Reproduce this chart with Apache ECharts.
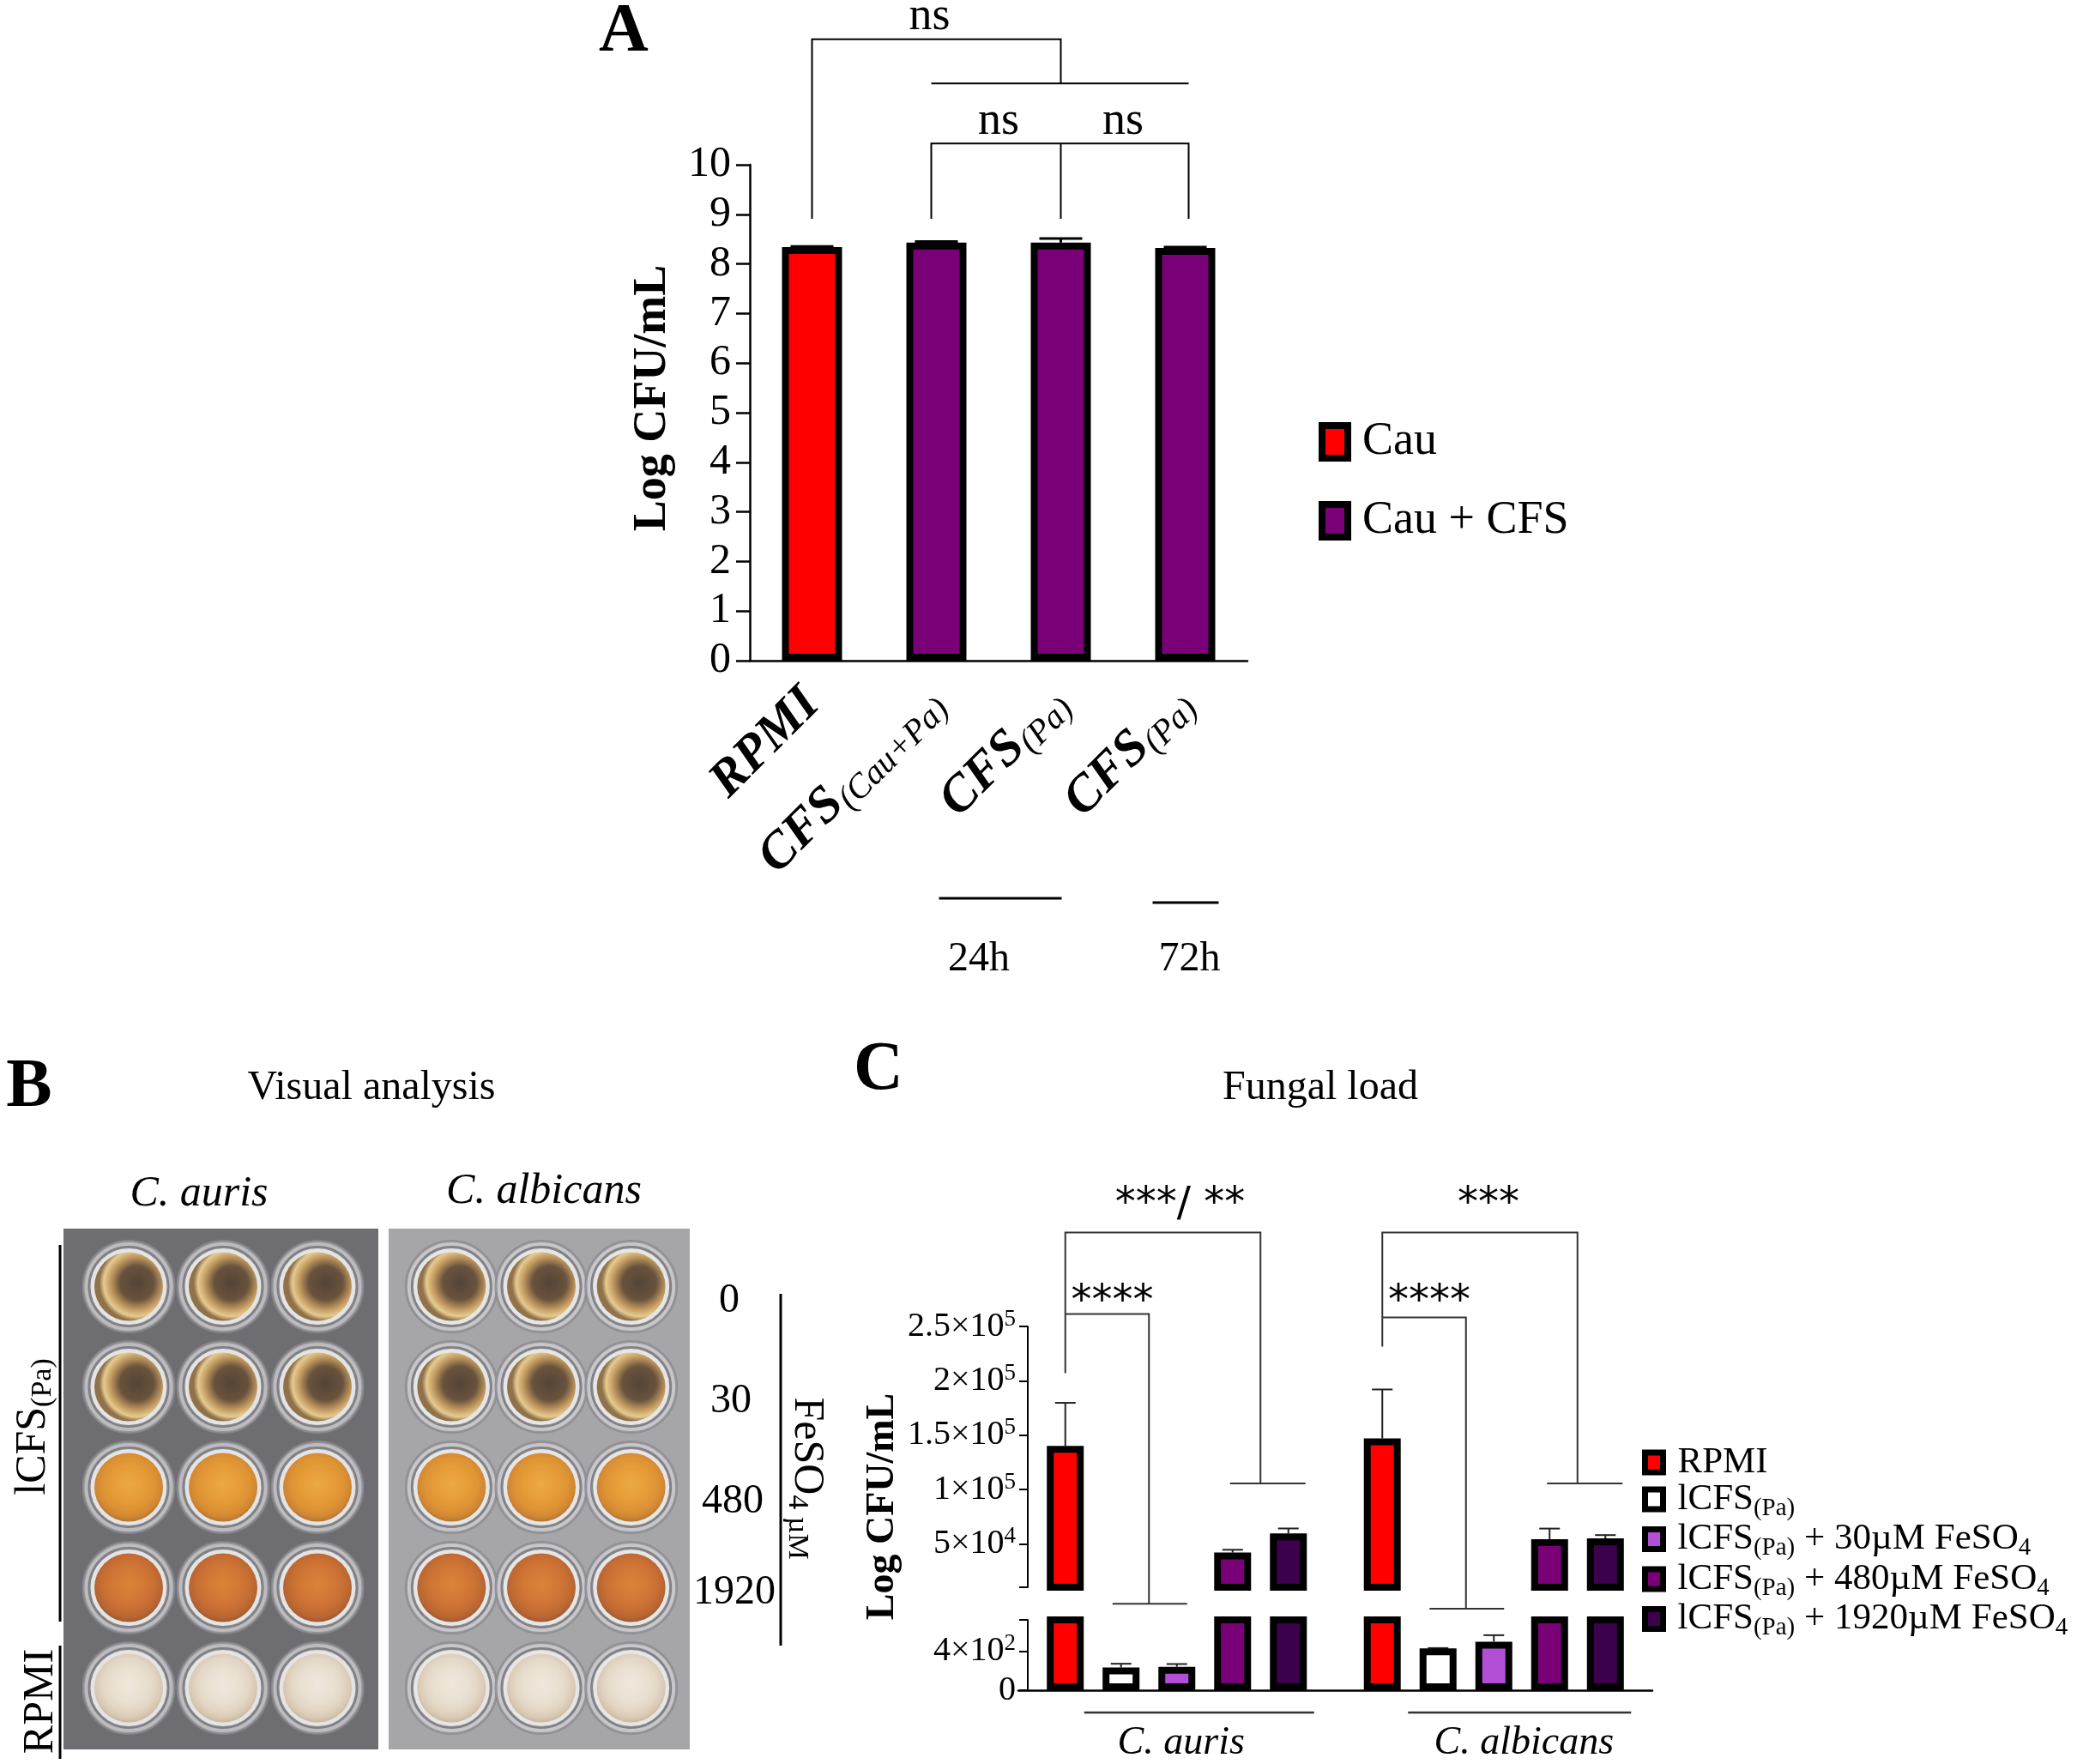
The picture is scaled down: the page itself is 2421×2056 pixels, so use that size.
<!DOCTYPE html>
<html>
<head>
<meta charset="utf-8">
<script src="https://cdn.jsdelivr.net/npm/echarts@6/dist/echarts.min.js"></script>
<style>
html, body { margin: 0; padding: 0; background: #fff; }
#fig { width: 2421px; height: 2056px; }
</style>
</head>
<body>
<div id="fig"></div>
<script>
var FONT = '"Liberation Serif", "Times New Roman", serif';

// ---- panel A data ----
var groupsA = ['RPMI', 'CFS(Cau+Pa) 24h', 'CFS(Pa) 24h', 'CFS(Pa) 72h'];
var labelMainA = ['RPMI', 'CFS', 'CFS', 'CFS'];
var labelSubA = ['', '(Cau+Pa)', '(Pa)', '(Pa)'];
var cauA = [8.34, '-', '-', '-'];
var cauCfsA = ['-', 8.43, 8.43, 8.32];
var meanA = [8.34, 8.43, 8.43, 8.32];
var errA = [0.01, 0.02, 0.08, 0.02];

// ---- panel C data ----
var speciesC = ['C. auris', 'C. albicans'];
var treatC = ['RPMI', 'lCFS(Pa)', 'lCFS(Pa) + 30µM FeSO4', 'lCFS(Pa) + 480µM FeSO4', 'lCFS(Pa) + 1920µM FeSO4'];
var aurisC = [140000, 232, 240, 41900, 59600];
var aurisErrC = [39700, 39, 28, 2600, 4500];
var albicansC = [147000, 427, 497, 54300, 55000];
var albicansErrC = [45000, 4, 66, 9700, 3000];
var upperTicksC = [10000, 50000, 100000, 150000, 200000, 250000];
var upperLabelsC = [50000, 100000, 150000, 200000, 250000];
var lowerTicksC = [0, 400, 720];
var lowerLabelsC = [0, 400];

// ---- panel B (plate photo) ----
var wellCols = ['1', '2', '3'];
var wellRows = ['0', '30', '480', '1920', 'RPMI'];
var feLabels = ['0', '30', '480', '1920'];

// styles
var colorsC = ['#ff0000', '#ffffff', '#b24fd6', '#7a0078', '#3c004c'];
var wellFill = [
    { cx: 0.62, stops: ['#2e1c0c', '#4a2e12', '#b8863e', '#e6c47a', '#7a5524'] },
    { cx: 0.62, stops: ['#2e1c0c', '#4a2e12', '#b8863e', '#e6c47a', '#7a5524'] },
    { cx: 0.5, stops: ['#ee9a1c', '#e68a0c', '#dc7e08', '#cc7006', '#a85a06'] },
    { cx: 0.5, stops: ['#d86a10', '#cc5c0a', '#c05006', '#ac4606', '#8a3806'] },
    { cx: 0.5, stops: ['#f2e8da', '#ebdfcc', '#e2d2bc', '#d6c2a6', '#c2ac8e'] }
];

var gA = { left: 874, top: 192, width: 580, height: 578 };
var gCu = { left: 1187, top: 1546, width: 739, height: 304 };
var gCl = { left: 1187, top: 1888, width: 739, height: 82 };
var gB1 = { left: 95, top: 1441, width: 330, height: 585 };
var gB2 = { left: 474, top: 1441, width: 314, height: 585 };

var BAR_C = 43, STEP_C = 65;

function sciLabel(v) {
    if (v === 0) return '{m|0}';
    var e = Math.floor(Math.log10(v));
    var m = Math.round(v / Math.pow(10, e) * 10) / 10;
    return '{m|' + m + '×10}{e|' + e + '}';
}
var sciRich = {
    m: { fontFamily: FONT, fontSize: 40, lineHeight: 44, verticalAlign: 'middle', color: '#000' },
    e: { fontFamily: FONT, fontSize: 27, lineHeight: 27, verticalAlign: 'top', color: '#000' }
};

function errRenderA(params, api) {
    var base = api.coord([api.value(0), api.value(1)]);
    var top = api.coord([api.value(0), api.value(2)]);
    return {
        type: 'group', children: [
            { type: 'line', shape: { x1: base[0], y1: base[1], x2: top[0], y2: top[1] }, style: { stroke: '#000', lineWidth: 3 } },
            { type: 'line', shape: { x1: top[0] - 25, y1: top[1], x2: top[0] + 25, y2: top[1] }, style: { stroke: '#000', lineWidth: 3 } }
        ]
    };
}
function errRenderC(params, api) {
    var base = api.coord([api.value(0), api.value(2)]);
    var top = api.coord([api.value(0), api.value(3)]);
    var x = base[0] + (api.value(1) - 2) * STEP_C;
    return {
        type: 'group', children: [
            { type: 'line', shape: { x1: x, y1: base[1], x2: x, y2: top[1] }, style: { stroke: '#222', lineWidth: 2 } },
            { type: 'line', shape: { x1: x - 12, y1: top[1], x2: x + 12, y2: top[1] }, style: { stroke: '#222', lineWidth: 2 } }
        ]
    };
}

var errDataA = meanA.map(function (m, i) { return [i, m, m + errA[i]]; });
var errDataC = [];
treatC.forEach(function (t, ti) {
    errDataC.push([0, ti, aurisC[ti], aurisC[ti] + aurisErrC[ti]]);
    errDataC.push([1, ti, albicansC[ti], albicansC[ti] + albicansErrC[ti]]);
});
var wells = [];
wellRows.forEach(function (r, ri) {
    wellCols.forEach(function (c, ci) { wells.push([ci, ri]); });
});

var series = [
    { type: 'bar', name: 'Cau', xAxisIndex: 0, yAxisIndex: 0, data: cauA, barWidth: 70, barGap: '-100%',
      itemStyle: { color: '#ff0000', borderColor: '#000', borderWidth: 8 } },
    { type: 'bar', name: 'Cau + CFS', xAxisIndex: 0, yAxisIndex: 0, data: cauCfsA, barWidth: 70, barGap: '-100%',
      itemStyle: { color: '#7a0078', borderColor: '#000', borderWidth: 8 } },
    { type: 'custom', xAxisIndex: 0, yAxisIndex: 0, data: errDataA, renderItem: errRenderA, encode: { x: 0, y: [1, 2] }, z: 5 }
];
[1, 2].forEach(function (k) {
    treatC.forEach(function (name, t) {
        series.push({
            type: 'bar', name: name, xAxisIndex: k, yAxisIndex: k,
            data: [aurisC[t], albicansC[t]], barWidth: BAR_C, barGap: '51.2%', clip: true,
            itemStyle: { color: colorsC[t], borderColor: '#000', borderWidth: 8 }
        });
    });
    series.push({ type: 'custom', xAxisIndex: k, yAxisIndex: k, data: errDataC, renderItem: errRenderC,
        encode: { x: 0, y: [2, 3] }, clip: true, z: 1 });
});
[3, 4].forEach(function (k) {
    series.push({ type: 'scatter', xAxisIndex: k, yAxisIndex: k, data: wells, symbolSize: 106, silent: true,
        itemStyle: { color: '#cfcfd3', borderColor: '#8a8a8e', borderWidth: 3 } });
    series.push({ type: 'scatter', xAxisIndex: k, yAxisIndex: k, data: wells, symbolSize: 92, silent: true,
        itemStyle: { color: '#eeeeee', borderColor: '#6e6e72', borderWidth: 3 } });
    series.push({ type: 'scatter', xAxisIndex: k, yAxisIndex: k, data: wells, symbolSize: 80, silent: true,
        itemStyle: {
            color: function (p) {
                var w = wellFill[p.data[1]];
                return new echarts.graphic.RadialGradient(w.cx, 0.45, 0.55, [
                    { offset: 0, color: w.stops[0] }, { offset: 0.45, color: w.stops[1] },
                    { offset: 0.7, color: w.stops[2] }, { offset: 0.88, color: w.stops[3] },
                    { offset: 1, color: w.stops[4] }
                ]);
            }
        } });
});

var axisLineStyle = { color: '#000', width: 2.5 };
var option = {
    backgroundColor: '#fff',
    animation: false,
    textStyle: { fontFamily: FONT, color: '#000' },
    grid: [gA, gCu, gCl, gB1, gB2],
    xAxis: [
        { gridIndex: 0, type: 'category', data: groupsA,
          axisLine: { lineStyle: axisLineStyle },
          axisTick: { alignWithLabel: true, length: 13, lineStyle: axisLineStyle },
          axisLabel: {
              rotate: 45, margin: 42, interval: 0, color: '#000',
              formatter: function (v, i) {
                  return '{b|' + labelMainA[i] + '}' + (labelSubA[i] ? '{s|' + labelSubA[i] + '}' : '');
              },
              rich: {
                  b: { fontFamily: FONT, fontWeight: 'bold', fontStyle: 'italic', fontSize: 60, lineHeight: 66, verticalAlign: 'middle', color: '#000' },
                  s: { fontFamily: FONT, fontStyle: 'italic', fontSize: 40, lineHeight: 42, verticalAlign: 'bottom', color: '#000' }
              }
          } },
        { gridIndex: 1, type: 'category', data: speciesC, show: false },
        { gridIndex: 2, type: 'category', data: speciesC,
          axisLine: { lineStyle: { color: '#000', width: 2.5 } }, axisTick: { show: false },
          axisLabel: { show: false } },
        { gridIndex: 3, type: 'category', data: wellCols, show: false },
        { gridIndex: 4, type: 'category', data: wellCols, show: false }
    ],
    yAxis: [
        { gridIndex: 0, type: 'value', min: 0, max: 10, interval: 1,
          axisLine: { show: true, lineStyle: axisLineStyle },
          axisTick: { show: true, length: 16, lineStyle: axisLineStyle },
          axisLabel: { fontFamily: FONT, fontSize: 50, margin: 22, color: '#000' },
          splitLine: { show: false } },
        { gridIndex: 1, type: 'value', min: 10000, max: 250000, offset: -11,
          axisLine: { show: true, lineStyle: { color: '#000', width: 2 } },
          axisTick: { show: true, length: 10, customValues: upperTicksC, lineStyle: { color: '#000', width: 2 } },
          axisLabel: { customValues: upperLabelsC, margin: 14, formatter: sciLabel, rich: sciRich },
          splitLine: { show: false } },
        { gridIndex: 2, type: 'value', min: 0, max: 720, offset: -11,
          axisLine: { show: true, lineStyle: { color: '#000', width: 2 } },
          axisTick: { show: true, length: 10, customValues: lowerTicksC, lineStyle: { color: '#000', width: 2 } },
          axisLabel: { customValues: lowerLabelsC, margin: 14, formatter: sciLabel, rich: sciRich },
          splitLine: { show: false } },
        { gridIndex: 3, type: 'category', data: wellRows, inverse: true, show: false },
        { gridIndex: 4, type: 'category', data: wellRows, inverse: true, show: false }
    ],
    legend: [
        { data: ['Cau', 'Cau + CFS'], orient: 'vertical', left: 1532, top: 482, icon: 'rect',
          itemWidth: 30, itemHeight: 38, itemGap: 36, selectedMode: false,
          itemStyle: { borderColor: '#000', borderWidth: 8 },
          textStyle: { fontFamily: FONT, fontSize: 54, lineHeight: 56, color: '#000', padding: [0, 0, 0, 12] } },
        { data: treatC, orient: 'vertical', left: 1909, top: 1678, icon: 'rect',
          itemWidth: 21, itemHeight: 23, itemGap: 0, selectedMode: false,
          itemStyle: { borderColor: '#000', borderWidth: 7 },
          formatter: function (name) {
              if (name === 'RPMI') return '{n|RPMI}';
              var parts = name.split(' + ');
              var s = '{n|lCFS}{s|(Pa)}';
              if (parts[1]) s += '{n| + ' + parts[1].replace('FeSO4', 'FeSO') + '}{s|4}';
              return s;
          },
          textStyle: {
              padding: [0, 0, 0, 12],
              rich: {
                  n: { fontFamily: FONT, fontSize: 43, lineHeight: 50, verticalAlign: 'middle', color: '#000' },
                  s: { fontFamily: FONT, fontSize: 29, lineHeight: 30, verticalAlign: 'bottom', color: '#000' }
              }
          } }
    ],
    series: series
};

var chart = echarts.init(document.getElementById('fig'), null, { renderer: 'canvas' });
chart.setOption(option);

// ---- annotations placed through the axes ----
function xA(i) { return chart.convertToPixel({ xAxisIndex: 0 }, groupsA[i]); }
function yA(v) { return chart.convertToPixel({ yAxisIndex: 0 }, v); }
function xC(s, t) { return chart.convertToPixel({ xAxisIndex: 1 }, speciesC[s]) + (t - 2) * STEP_C; }
function yC(v) { return chart.convertToPixel({ yAxisIndex: 1 }, v); }
function yB(r) { return chart.convertToPixel({ yAxisIndex: 4 }, r); }

var thin = { stroke: '#000', lineWidth: 2, fill: null };
var thinC = { stroke: '#333', lineWidth: 2, fill: null };
function txt(x, y, text, size, extra) {
    var st = { text: text, fontFamily: FONT, fontSize: size, fill: '#000', align: 'center', verticalAlign: 'middle' };
    for (var k in extra) st[k] = extra[k];
    return { type: 'text', x: x, y: y, style: st, z: 10 };
}
function poly(pts, st) { return { type: 'polyline', shape: { points: pts }, style: st || thin, z: 10 }; }
function rtxt(x, y, rich, text, rot) {
    return { type: 'text', x: x, y: y, rotation: rot, z: 10,
        style: { text: text, rich: rich, align: 'center', verticalAlign: 'middle', fill: '#000' } };
}
function vtxt(x, y, text, size, rot) {
    var t = txt(x, y, text, size, { fontWeight: 'bold' });
    t.rotation = rot;
    return t;
}

var g = [];
// panel letters, titles, axis names
g.push(txt(727, 38, 'A', 80, { fontWeight: 'bold' }));
g.push(txt(34, 1268, 'B', 80, { fontWeight: 'bold' }));
g.push(txt(1024, 1248, 'C', 80, { fontWeight: 'bold' }));
g.push(txt(433, 1268, 'Visual analysis', 48));
g.push(txt(1539, 1268, 'Fungal load', 48));
g.push(vtxt(761, 464, 'Log CFU/mL', 54, Math.PI / 2));
g.push(vtxt(1029, 1756, 'Log CFU/mL', 46, Math.PI / 2));

// panel A brackets
var aBase = yA(8.91), aTop = yA(12.53), aMid = yA(11.64), aLow = yA(10.43);
g.push(poly([[xA(0), aBase], [xA(0), aTop], [xA(2), aTop], [xA(2), aMid]]));
g.push(poly([[xA(1) - 6, aMid], [xA(3) + 4, aMid]]));
g.push(poly([[xA(1) - 6, aBase], [xA(1) - 6, aLow], [xA(3) + 4, aLow], [xA(3) + 4, aBase]]));
g.push(poly([[xA(2), aLow], [xA(2), aBase]]));
g.push(txt((xA(0) + xA(2)) / 2 - 8, yA(12.98), 'ns', 54));
g.push(txt((xA(1) + xA(2)) / 2, yA(10.87), 'ns', 54));
g.push(txt((xA(2) + xA(3)) / 2, yA(10.87), 'ns', 54));
// time groups
var axA = gA.top + gA.height;
g.push(poly([[xA(1) + 3, axA + 277], [xA(2) + 1, axA + 277]], { stroke: '#000', lineWidth: 3 }));
g.push(poly([[xA(3) - 38, axA + 282], [xA(3) + 39, axA + 282]], { stroke: '#000', lineWidth: 3 }));
g.push(txt((xA(1) + xA(2)) / 2 - 23, axA + 348, '24h', 48));
g.push(txt(xA(3) + 5, axA + 348, '72h', 48));

// panel C brackets
var star = { fontFamily: '"DejaVu Sans", sans-serif' };
[[0, 206900, -5100, 261400], [1, 231400, -9800, 258200]].forEach(function (b) {
    var s = b[0];
    var x0 = xC(s, 0), xo = (xC(s, 3) + xC(s, 4)) / 2, xi = (xC(s, 1) + xC(s, 2)) / 2;
    var yTop = yC(336400), yIn = yC(b[3]), yFoot = yC(b[1]);
    g.push(poly([[x0, yFoot], [x0, yTop], [xo, yTop], [xo, yC(105500)]], thinC));
    g.push(poly([[xC(s, 3) - 3, yC(105500)], [xC(s, 4) + 20, yC(105500)]], thinC));
    g.push(poly([[x0, yIn], [xi, yIn], [xi, yC(b[2])]], thinC));
    g.push(poly([[xC(s, 1) - 10, yC(b[2])], [xC(s, 2) + 12, yC(b[2])]], thinC));
    g.push(txt((x0 + xi) / 2 + 6, yC(272000), '****', 48, star));
    // species label under the axis
    var axC = gCl.top + gCl.height;
    g.push(poly([[xC(s, 0) + 22 + s * 8, axC + 26], [xC(s, 4) + 30, axC + 26]], { stroke: '#333', lineWidth: 2.5 }));
    g.push(txt(xC(s, 2) + 5 + s * 30, axC + 62, speciesC[s], 46, { fontStyle: 'italic' }));
});
g.push(txt((xC(0, 0) + (xC(0, 3) + xC(0, 4)) / 2) / 2 + 20, yC(362000), '***/ **', 48, star));
g.push(txt((xC(1, 0) + (xC(1, 3) + xC(1, 4)) / 2) / 2 + 10, yC(362000), '***', 48, star));

// panel B plates, labels and brackets
[[gB1, '#6e6e72'], [gB2, '#a6a6a9']].forEach(function (p) {
    var gr = p[0];
    g.push({ type: 'rect', z: 0, shape: { x: gr.left - 21, y: gr.top - 9, width: gr.width + 37, height: gr.height + 22 },
        style: { fill: p[1] } });
});
feLabels.forEach(function (lab, i) {
    g.push(txt(gB2.left + gB2.width + 62 + Math.min(i, 3) * 2, yB(wellRows[i]) + (i === 3 ? 6 : 17), lab, 48));
});
g.push(txt(gB1.left + gB1.width / 2 - 28, 1392, 'C. auris', 50, { fontStyle: 'italic' }));
g.push(txt(gB2.left + gB2.width / 2 + 3, 1389, 'C. albicans', 50, { fontStyle: 'italic' }));
var subRich = {
    n: { fontFamily: FONT, fontSize: 50, lineHeight: 56, verticalAlign: 'middle', fill: '#000' },
    s: { fontFamily: FONT, fontSize: 34, lineHeight: 34, verticalAlign: 'bottom', fill: '#000' }
};
g.push(rtxt(39, 1663, subRich, '{n|lCFS}{s|(Pa)}', Math.PI / 2));
g.push(rtxt(48, 1983, subRich, '{n|RPMI}', Math.PI / 2));
g.push(rtxt(940, 1723, subRich, '{n|FeSO}{s|4 µM}', -Math.PI / 2));
g.push(poly([[70, 1451], [70, 1890]], { stroke: '#000', lineWidth: 3 }));
g.push(poly([[70, 1918], [70, 2050]], { stroke: '#000', lineWidth: 3 }));
g.push(poly([[910, 1508], [910, 1918]], { stroke: '#000', lineWidth: 3 }));

chart.setOption({ graphic: { elements: g } });
</script>
</body>
</html>
